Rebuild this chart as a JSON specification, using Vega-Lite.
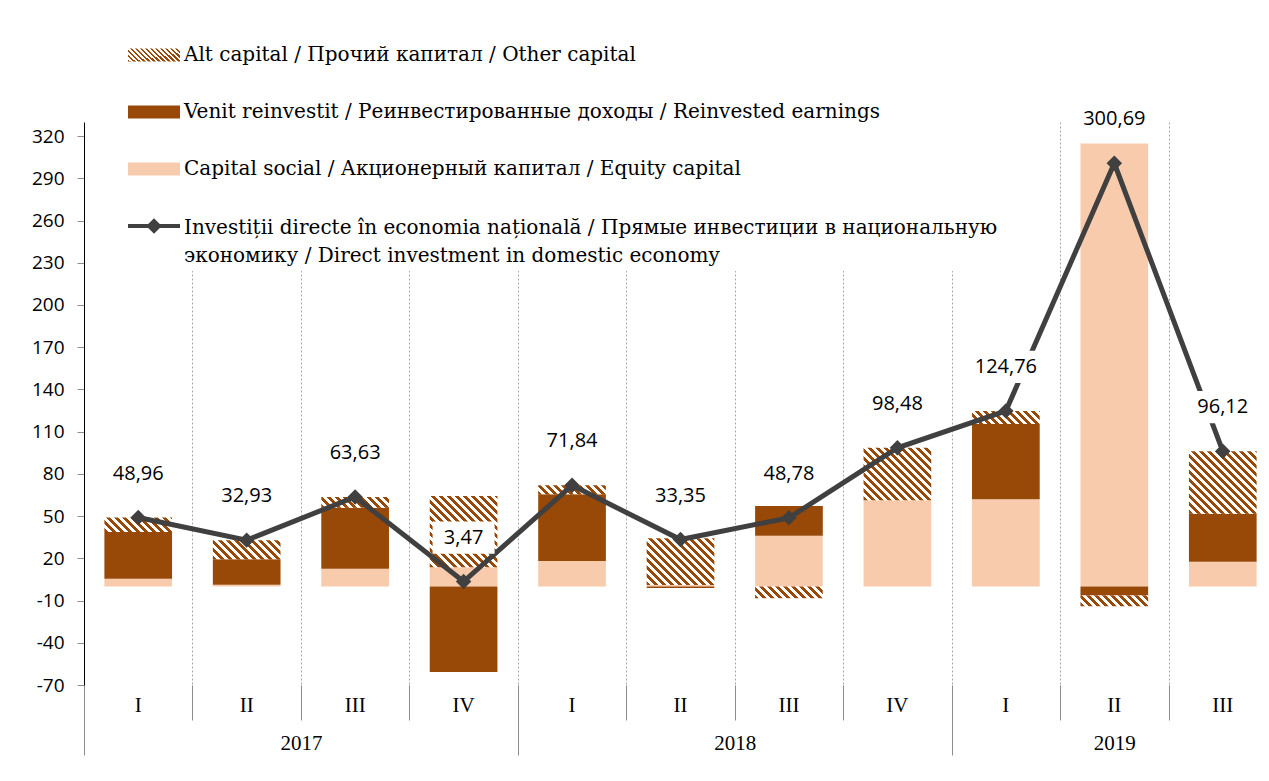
{
  "$schema": "https://vega.github.io/schema/vega-lite/v6.json",
  "width": 1185,
  "height": 563,
  "autosize": {"type": "none"},
  "padding": {"left": 84, "top": 122, "right": 0, "bottom": 96},
  "background": "white",
  "params": [
    {"name": "hatchStops", "value": [
      {"offset":0,"color":"#984807"},{"offset":0.025,"color":"#984807"},{"offset":0.025,"color":"#ffffff"},{"offset":0.05,"color":"#ffffff"},
      {"offset":0.05,"color":"#984807"},{"offset":0.075,"color":"#984807"},{"offset":0.075,"color":"#ffffff"},{"offset":0.1,"color":"#ffffff"},
      {"offset":0.1,"color":"#984807"},{"offset":0.125,"color":"#984807"},{"offset":0.125,"color":"#ffffff"},{"offset":0.15,"color":"#ffffff"},
      {"offset":0.15,"color":"#984807"},{"offset":0.175,"color":"#984807"},{"offset":0.175,"color":"#ffffff"},{"offset":0.2,"color":"#ffffff"},
      {"offset":0.2,"color":"#984807"},{"offset":0.225,"color":"#984807"},{"offset":0.225,"color":"#ffffff"},{"offset":0.25,"color":"#ffffff"},
      {"offset":0.25,"color":"#984807"},{"offset":0.275,"color":"#984807"},{"offset":0.275,"color":"#ffffff"},{"offset":0.3,"color":"#ffffff"},
      {"offset":0.3,"color":"#984807"},{"offset":0.325,"color":"#984807"},{"offset":0.325,"color":"#ffffff"},{"offset":0.35,"color":"#ffffff"},
      {"offset":0.35,"color":"#984807"},{"offset":0.375,"color":"#984807"},{"offset":0.375,"color":"#ffffff"},{"offset":0.4,"color":"#ffffff"},
      {"offset":0.4,"color":"#984807"},{"offset":0.425,"color":"#984807"},{"offset":0.425,"color":"#ffffff"},{"offset":0.45,"color":"#ffffff"},
      {"offset":0.45,"color":"#984807"},{"offset":0.475,"color":"#984807"},{"offset":0.475,"color":"#ffffff"},{"offset":0.5,"color":"#ffffff"},
      {"offset":0.5,"color":"#984807"},{"offset":0.525,"color":"#984807"},{"offset":0.525,"color":"#ffffff"},{"offset":0.55,"color":"#ffffff"},
      {"offset":0.55,"color":"#984807"},{"offset":0.575,"color":"#984807"},{"offset":0.575,"color":"#ffffff"},{"offset":0.6,"color":"#ffffff"},
      {"offset":0.6,"color":"#984807"},{"offset":0.625,"color":"#984807"},{"offset":0.625,"color":"#ffffff"},{"offset":0.65,"color":"#ffffff"},
      {"offset":0.65,"color":"#984807"},{"offset":0.675,"color":"#984807"},{"offset":0.675,"color":"#ffffff"},{"offset":0.7,"color":"#ffffff"},
      {"offset":0.7,"color":"#984807"},{"offset":0.725,"color":"#984807"},{"offset":0.725,"color":"#ffffff"},{"offset":0.75,"color":"#ffffff"},
      {"offset":0.75,"color":"#984807"},{"offset":0.775,"color":"#984807"},{"offset":0.775,"color":"#ffffff"},{"offset":0.8,"color":"#ffffff"},
      {"offset":0.8,"color":"#984807"},{"offset":0.825,"color":"#984807"},{"offset":0.825,"color":"#ffffff"},{"offset":0.85,"color":"#ffffff"},
      {"offset":0.85,"color":"#984807"},{"offset":0.875,"color":"#984807"},{"offset":0.875,"color":"#ffffff"},{"offset":0.9,"color":"#ffffff"},
      {"offset":0.9,"color":"#984807"},{"offset":0.925,"color":"#984807"},{"offset":0.925,"color":"#ffffff"},{"offset":0.95,"color":"#ffffff"},
      {"offset":0.95,"color":"#984807"},{"offset":0.975,"color":"#984807"},{"offset":0.975,"color":"#ffffff"},{"offset":1,"color":"#ffffff"}
    ]}
  ],
  "datasets": {
    "bars": [
      {"q":"2017-I","component":"equity","value":5.5},{"q":"2017-I","component":"reinvested","value":33.2},{"q":"2017-I","component":"other","value":10.26},
      {"q":"2017-II","component":"equity","value":1.2},{"q":"2017-II","component":"reinvested","value":18.1},{"q":"2017-II","component":"other","value":13.63},
      {"q":"2017-III","component":"equity","value":12.6},{"q":"2017-III","component":"reinvested","value":43.4},{"q":"2017-III","component":"other","value":7.63},
      {"q":"2017-IV","component":"equity","value":13.6},{"q":"2017-IV","component":"reinvested","value":-60.83},{"q":"2017-IV","component":"other","value":50.7},
      {"q":"2018-I","component":"equity","value":18.1},{"q":"2018-I","component":"reinvested","value":47.4},{"q":"2018-I","component":"other","value":6.34},
      {"q":"2018-II","component":"equity","value":1.0},{"q":"2018-II","component":"reinvested","value":-1.0},{"q":"2018-II","component":"other","value":33.35},
      {"q":"2018-III","component":"equity","value":36.1},{"q":"2018-III","component":"reinvested","value":21.1},{"q":"2018-III","component":"other","value":-8.42},
      {"q":"2018-IV","component":"equity","value":61.2},{"q":"2018-IV","component":"reinvested","value":0},{"q":"2018-IV","component":"other","value":37.28},
      {"q":"2019-I","component":"equity","value":62.0},{"q":"2019-I","component":"reinvested","value":53.4},{"q":"2019-I","component":"other","value":9.36},
      {"q":"2019-II","component":"equity","value":314.8},{"q":"2019-II","component":"reinvested","value":-6.5},{"q":"2019-II","component":"other","value":-7.61},
      {"q":"2019-III","component":"equity","value":17.6},{"q":"2019-III","component":"reinvested","value":34.1},{"q":"2019-III","component":"other","value":44.42}
    ],
    "totals": [
      {"q":"2017-I","total":48.96},{"q":"2017-II","total":32.93},{"q":"2017-III","total":63.63},{"q":"2017-IV","total":3.47},
      {"q":"2018-I","total":71.84},{"q":"2018-II","total":33.35},{"q":"2018-III","total":48.78},{"q":"2018-IV","total":98.48},
      {"q":"2019-I","total":124.76},{"q":"2019-II","total":300.69},{"q":"2019-III","total":96.12}
    ]
  },
  "layer": [
    {
      "encoding": {
        "x": {
          "field": "q", "type": "ordinal",
          "scale": {
            "type": "band",
            "domain": ["2017-I","2017-II","2017-III","2017-IV","2018-I","2018-II","2018-III","2018-IV","2019-I","2019-II","2019-III"],
            "range": [0, 1193],
            "paddingInner": 0.376, "paddingOuter": 0.188
          },
          "axis": {
            "orient": "bottom", "title": null, "domain": false, "ticks": false, "tickSize": 0, "grid": false,
            "labelExpr": "split(datum.value, '-')[1]",
            "labelAngle": 0, "labelFont": "Liberation Serif", "labelFontSize": 21, "labelColor": "black",
            "labelPadding": 9, "labelBaseline": "top"
          }
        }
      },
      "layer": [
        {
          "data": {"name": "bars"},
          "transform": [
            {"stack": "value", "groupby": ["q"], "as": ["v0", "v1"]},
            {"filter": "datum.component != 'other'"}
          ],
          "mark": {"type": "bar"},
          "encoding": {
            "y": {
              "field": "v0", "type": "quantitative",
              "scale": {"domain": [-70, 330], "nice": false, "zero": false},
              "axis": {
                "title": null, "values": [-70,-40,-10,20,50,80,110,140,170,200,230,260,290,320],
                "domain": true, "domainColor": "black", "domainWidth": 1,
                "ticks": true, "tickColor": "#8c8c8c", "tickSize": 7, "tickWidth": 1,
                "grid": false,
                "labelFont": "Open Sans", "labelFontSize": 19, "labelColor": "black", "labelPadding": 13
              }
            },
            "y2": {"field": "v1"},
            "color": {
              "field": "component", "type": "nominal",
              "scale": {
                "domain": ["other","reinvested","equity","total"],
                "range": [
                  {"expr": "{gradient: 'linear', x1: 0, y1: 1, x2: 1.81, y2: 0.547, stops: hatchStops}"},
                  "#984807", "#F8CBAD", "#404040"
                ]
              },
              "legend": {
                "orient": "none", "legendX": 39, "legendY": -98, "direction": "vertical", "title": null,
                "symbolType": "M-1,-0.25H1V0.25H-1Z", "symbolSize": 2704, "symbolStrokeWidth": 0, "symbolOpacity": 1,
                "labelFont": "DejaVu Serif", "labelFontSize": 20, "labelColor": "black", "labelLimit": 0, "labelOffset": 4,
                "rowPadding": 21, "fillColor": "white", "padding": 5,
                "labelExpr": "datum.value == 'other' ? 'Alt capital / Прочий капитал / Other capital' : datum.value == 'reinvested' ? 'Venit reinvestit / Реинвестированные доходы / Reinvested earnings' : datum.value == 'equity' ? 'Capital social / Акционерный капитал / Equity capital' : ['Investiții directe în economia națională / Прямые инвестиции в национальную', 'экономику / Direct investment in domestic economy']",
                "encode": {
                  "symbols": {"update": {
                    "shape": [{"test": "datum.value == 'total'", "value": "M-1,-0.08H1V0.08H-1Z M0,-0.3L0.3,0L0,0.3L-0.3,0Z"}, {"value": "M-1,-0.25H1V0.25H-1Z"}]
                  }},
                  "labels": {"update": {
                    "dy": [{"test": "datum.value == 'total'", "value": 2}, {"value": 0}],
                    "lineHeight": {"value": 28}
                  }}
                }
              }
            }
          }
        },
        {
          "data": {"name": "bars"},
          "transform": [
            {"stack": "value", "groupby": ["q"], "as": ["v0", "v1"]},
            {"filter": "datum.component == 'other'"}
          ],
          "mark": {
            "type": "bar",
            "fill": {"expr": "{gradient: 'linear', x1: 0, y1: 1, x2: 10832/(4583.3+pow(abs(datum.value)*1.4077,2)), y2: 1 - (10832/(4583.3+pow(abs(datum.value)*1.4077,2)))*abs(datum.value)*1.4077/67.7, stops: hatchStops}"}
          },
          "encoding": {
            "y": {"field": "v0", "type": "quantitative"},
            "y2": {"field": "v1"}
          }
        },
        {
          "data": {"name": "totals"},
          "mark": {"type": "line", "color": "#404040", "strokeWidth": 5},
          "encoding": {"y": {"field": "total", "type": "quantitative"}}
        },
        {
          "data": {"name": "totals"},
          "mark": {"type": "point", "shape": "diamond", "filled": true, "size": 240, "color": "#404040", "opacity": 1},
          "encoding": {"y": {"field": "total", "type": "quantitative"}}
        },
        {
          "data": {"name": "totals"},
          "mark": {"type": "point", "shape": "M-1,-0.52H1V0.52H-1Z", "filled": true, "size": 3844, "color": "white", "opacity": 1, "yOffset": -44},
          "encoding": {"y": {"field": "total", "type": "quantitative"}}
        },
        {
          "data": {"name": "totals"},
          "mark": {"type": "text", "font": "Open Sans", "fontSize": 20, "color": "black", "baseline": "middle", "align": "center", "yOffset": -44},
          "encoding": {
            "y": {"field": "total", "type": "quantitative"},
            "text": {"field": "total", "type": "quantitative", "format": ".2f"}
          }
        }
      ]
    },
    {
      "mark": {"type": "rule", "color": "black", "strokeWidth": 1.3},
      "encoding": {
        "x": {
          "datum": 0, "type": "quantitative",
          "scale": {"domain": [0, 11], "range": [0, 1193], "nice": false, "zero": false},
          "axis": {
            "orient": "bottom", "title": null,
            "values": [0,1,2,3,4,5,6,7,8,9,9.5,10],
            "domain": false,
            "grid": true, "gridColor": "#a6a6a6", "gridDash": [2, 2], "gridWidth": 1,
            "gridOpacity": {"condition": {"test": "datum.value == 0 || datum.value == 9.5", "value": 0}, "value": 1},
            "ticks": true, "tickColor": "#8c8c8c", "tickWidth": 1,
            "tickSize": {"condition": {"test": "datum.value == 0 || datum.value == 4 || datum.value == 8", "value": 70}, "value": 35},
            "tickOpacity": {"condition": {"test": "datum.value == 9.5", "value": 0}, "value": 1},
            "labelExpr": "datum.value == 2 ? '2017' : datum.value == 6 ? '2018' : datum.value == 9.5 ? '2019' : ''",
            "labelFont": "Liberation Serif", "labelFontSize": 21, "labelColor": "black",
            "labelPadding": 12, "labelBaseline": "top", "labelFlush": false, "labelOverlap": false, "labelBound": false
          }
        },
        "x2": {"datum": 11},
        "y": {"datum": 0, "type": "quantitative"}
      }
    }
  ],
  "resolve": {"scale": {"x": "independent"}, "axis": {"x": "independent"}},
  "config": {
    "view": {"stroke": null},
    "locale": {"number": {"decimal": ",", "thousands": " ", "grouping": [3], "currency": ["", ""], "minus": "-"}}
  }
}
